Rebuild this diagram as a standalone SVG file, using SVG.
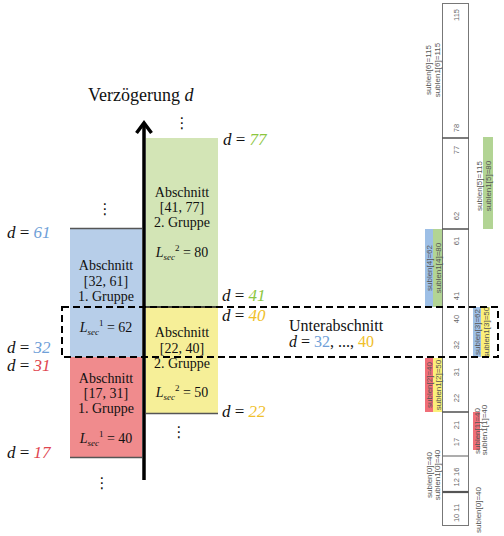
<svg xmlns="http://www.w3.org/2000/svg" width="504" height="536" viewBox="0 0 504 536">
<style>
.serif{font-family:"Liberation Serif","DejaVu Serif",serif;fill:#111}
.bx{font-size:14px;text-anchor:middle}
.dl{font-size:17px}
.it{font-style:italic}
.sm{font-family:"Liberation Sans","DejaVu Sans",sans-serif;font-size:8px;fill:#555;text-anchor:middle}
.num{font-family:"Liberation Sans","DejaVu Sans",sans-serif;font-size:7.5px;fill:#666;text-anchor:middle}
.g{fill:#8dc63f}.b{fill:#6f9fd8}.r{fill:#e0454f}.y{fill:#f0c02a}
.dots{font-family:"DejaVu Sans",sans-serif;font-size:15px;fill:#111;text-anchor:middle}
.div{stroke:#333;stroke-width:1.3}
</style>

<!-- title -->
<g id="title">
<text class="serif" x="88" y="101" font-size="18">Verzögerung <tspan class="it">d</tspan></text>
</g>

<!-- boxes -->
<g id="box-green">
<rect x="146" y="138" width="72" height="169" fill="#d3e5b6"/>
<text class="serif bx" x="182" y="197">Abschnitt</text>
<text class="serif bx" x="182" y="212">[41, 77]</text>
<text class="serif bx" x="182" y="227">2. Gruppe</text>
<text class="serif bx" x="182" y="257"><tspan class="it">L</tspan><tspan class="it" font-size="9" dy="3">sec</tspan><tspan font-size="9" dy="-9">2</tspan><tspan dy="6"> = 80</tspan></text>
</g>
<g id="box-blue">
<rect x="70" y="228" width="72" height="129" fill="#b7cee9"/>
<line x1="70" y1="228.5" x2="142" y2="228.5" stroke="#555" stroke-width="1.5"/>
<text class="serif bx" x="106" y="270">Abschnitt</text>
<text class="serif bx" x="106" y="286">[32, 61]</text>
<text class="serif bx" x="106" y="301">1. Gruppe</text>
<text class="serif bx" x="106" y="332"><tspan class="it">L</tspan><tspan class="it" font-size="9" dy="3">sec</tspan><tspan font-size="9" dy="-9">1</tspan><tspan dy="6"> = 62</tspan></text>
</g>
<g id="box-yellow">
<rect x="146" y="307" width="72" height="107" fill="#f6ef98"/>
<line x1="146" y1="413.5" x2="218" y2="413.5" stroke="#555" stroke-width="1.5"/>
<text class="serif bx" x="182" y="337">Abschnitt</text>
<text class="serif bx" x="182" y="353">[22, 40]</text>
<text class="serif bx" x="182" y="368">2. Gruppe</text>
<text class="serif bx" x="182" y="397"><tspan class="it">L</tspan><tspan class="it" font-size="9" dy="3">sec</tspan><tspan font-size="9" dy="-9">2</tspan><tspan dy="6"> = 50</tspan></text>
</g>
<g id="box-red">
<rect x="70" y="357" width="72" height="101" fill="#f08b8d"/>
<line x1="70" y1="457.5" x2="142" y2="457.5" stroke="#555" stroke-width="1.5"/>
<text class="serif bx" x="106" y="383">Abschnitt</text>
<text class="serif bx" x="106" y="398">[17, 31]</text>
<text class="serif bx" x="106" y="413">1. Gruppe</text>
<text class="serif bx" x="106" y="443"><tspan class="it">L</tspan><tspan class="it" font-size="9" dy="3">sec</tspan><tspan font-size="9" dy="-9">1</tspan><tspan dy="6"> = 40</tspan></text>
</g>

<!-- d labels -->
<g id="d-labels">
<text class="serif dl" x="223" y="145"><tspan class="it">d</tspan> = <tspan class="it g">77</tspan></text>
<text class="serif dl" x="7" y="238"><tspan class="it">d</tspan> = <tspan class="it b">61</tspan></text>
<text class="serif dl" x="222" y="301"><tspan class="it">d</tspan> = <tspan class="it g">41</tspan></text>
<text class="serif dl" x="222" y="321"><tspan class="it">d</tspan> = <tspan class="it y">40</tspan></text>
<text class="serif dl" x="7" y="353"><tspan class="it">d</tspan> = <tspan class="it b">32</tspan></text>
<text class="serif dl" x="7" y="371"><tspan class="it">d</tspan> = <tspan class="it r">31</tspan></text>
<text class="serif dl" x="222" y="417"><tspan class="it">d</tspan> = <tspan class="it y">22</tspan></text>
<text class="serif dl" x="7" y="458"><tspan class="it">d</tspan> = <tspan class="it r">17</tspan></text>
</g>

<g id="unterabschnitt">
<text class="serif" x="289" y="331" font-size="16">Unterabschnitt</text>
<text class="serif" x="289" y="347" font-size="16"><tspan class="it">d</tspan> = <tspan class="b">32</tspan>, ..., <tspan class="y">40</tspan></text>
</g>

<g id="ellipses">
<text class="dots" x="182" y="128">⋮</text>
<text class="dots" x="105" y="214">⋮</text>
<text class="dots" x="179" y="437">⋮</text>
<text class="dots" x="102" y="488">⋮</text>
</g>

<!-- strip on the right -->
<g id="strip">
<rect x="442.5" y="3.5" width="26" height="522" fill="#fff" stroke="#777" stroke-width="1"/>
<line class="div" x1="442.5" y1="138" x2="468.5" y2="138"/>
<line class="div" x1="442.5" y1="229" x2="468.5" y2="229" stroke="#111"/>
<line class="div" x1="442.5" y1="412" x2="468.5" y2="412" stroke="#111"/>
<line x1="442.5" y1="456" x2="468.5" y2="456" stroke="#777" stroke-width="1.2"/>
<line x1="442.5" y1="492" x2="468.5" y2="492" stroke="#555" stroke-width="2.2"/>
<g class="num">
<text transform="translate(458.5,15) rotate(-90)">115</text>
<text transform="translate(458.5,128) rotate(-90)">78</text>
<text transform="translate(458.5,150) rotate(-90)">77</text>
<text transform="translate(458.5,216) rotate(-90)">62</text>
<text transform="translate(458.5,241) rotate(-90)">61</text>
<text transform="translate(458.5,296) rotate(-90)">41</text>
<text transform="translate(458.5,319) rotate(-90)">40</text>
<text transform="translate(458.5,345) rotate(-90)">32</text>
<text transform="translate(458.5,372) rotate(-90)">31</text>
<text transform="translate(458.5,398) rotate(-90)">22</text>
<text transform="translate(458.5,425) rotate(-90)">21</text>
<text transform="translate(458.5,442) rotate(-90)">17</text>
<text transform="translate(458.5,477) rotate(-90)">12 16</text>
<text transform="translate(458.5,513) rotate(-90)">10 11</text>
</g>
</g>

<g id="sublen-labels">
<rect x="425" y="229" width="8" height="78" fill="#9dbfe6"/>
<rect x="433" y="229" width="9" height="78" fill="#b2d494"/>
<rect x="425" y="358" width="8" height="54" fill="#f06e78"/>
<rect x="433" y="358" width="9" height="54" fill="#fbf07a"/>
<rect x="483" y="137" width="10" height="92" fill="#b2d494"/>
<rect x="473" y="307" width="8" height="50" fill="#9dbfe6"/>
<rect x="481" y="307" width="9" height="50" fill="#fbf07a"/>
<rect x="473" y="412" width="7" height="38" fill="#f06e78"/>
<g class="sm">
<text transform="translate(431,70) rotate(-90)">sublen[6]=115</text>
<text transform="translate(439.5,70) rotate(-90)">sublen1[6]=115</text>
<text transform="translate(481.5,186) rotate(-90)">sublen[5]=115</text>
<text transform="translate(491,186) rotate(-90)">sublen1[5]=80</text>
<text transform="translate(432,268) rotate(-90)">sublen[4]=62</text>
<text transform="translate(440.5,268) rotate(-90)">sublen1[4]=80</text>
<text transform="translate(480,332) rotate(-90)">sublen[3]=62</text>
<text transform="translate(488.5,332) rotate(-90)">sublen1[3]=50</text>
<text transform="translate(432,385) rotate(-90)">sublen[2]=40</text>
<text transform="translate(440.5,385) rotate(-90)">sublen1[2]=50</text>
<text transform="translate(479.5,431) rotate(-90)">sublen[1]=40</text>
<text transform="translate(487,430) rotate(-90)">sublen1[1]=40</text>
<text transform="translate(431.5,475) rotate(-90)">sublen[0]=40</text>
<text transform="translate(439.5,475) rotate(-90)">sublen1[0]=40</text>
<text transform="translate(481,510) rotate(-90)">sublen[0]=40</text>
</g>
</g>

<!-- connectors: axis and dashed sub-section frame -->
<g id="connectors">
<line x1="144" y1="124" x2="144" y2="480" stroke="#000" stroke-width="3.5"/>
<polyline points="136.5,133 144,123 151.5,133" fill="none" stroke="#000" stroke-width="3.5" stroke-linejoin="miter"/>
<line x1="146" y1="307" x2="218" y2="307" stroke="#111" stroke-width="1.5"/>
<rect x="62" y="307" width="436" height="50" fill="none" stroke="#000" stroke-width="2" stroke-dasharray="7,4"/>
</g>
</svg>
